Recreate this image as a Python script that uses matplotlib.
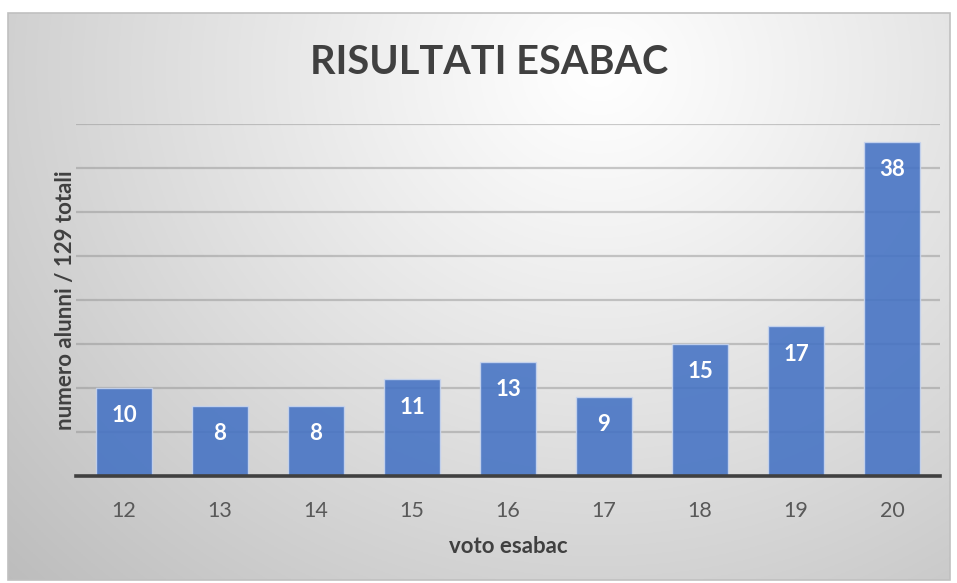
import numpy as np
import matplotlib
matplotlib.use("Agg")
import matplotlib.pyplot as plt
from matplotlib.patches import Rectangle

categories = ["12", "13", "14", "15", "16", "17", "18", "19", "20"]
values = [10, 8, 8, 11, 13, 9, 15, 17, 38]
title = "RISULTATI ESABAC"
xlabel = "voto esabac"
ylabel = "numero alunni / 129 totali"

plt.rcParams['font.family'] = ['Lato', 'DejaVu Sans']

W, H = 957, 583
fig = plt.figure(figsize=(W / 100, H / 100), dpi=100)
fig.patch.set_facecolor("white")

# background frame with radial gradient
x0, y0, x1, y1 = 8, 13, 950, 580
bg = fig.add_axes([x0 / W, 1 - y1 / H, (x1 - x0) / W, (y1 - y0) / H], zorder=0)
nx, ny = 400, 240
xx, yy = np.meshgrid(np.linspace(x0, x1, nx), np.linspace(y0, y1, ny))
cx, cy = 600, 70
r = np.sqrt(((xx - cx) / 1.0) ** 2 + ((yy - cy) / 0.9) ** 2)
r = r / r.max()
light = 1.0 - 0.26 * np.clip(r, 0, 1) ** 1.1
img = np.dstack([light, light, light])
bg.imshow(img, extent=[0, 1, 0, 1], aspect="auto", origin="upper")
bg.set_xlim(0, 1)
bg.set_ylim(0, 1)
bg.axis("off")
fig.patches.append(Rectangle((x0 / W, 1 - y1 / H), (x1 - x0) / W, (y1 - y0) / H,
                             transform=fig.transFigure, fill=False,
                             edgecolor="#c0c0c0", linewidth=1.2, zorder=5))

# main axes
L, R, B, T = 76, 940, 476, 124
ax = fig.add_axes([L / W, 1 - B / H, (R - L) / W, (B - T) / H], zorder=2)
ax.patch.set_alpha(0)

xpos = np.arange(len(categories))
ax.set_xlim(-0.5, len(categories) - 0.5)
ax.set_ylim(0, 40)
ax.set_yticks(np.arange(5, 45, 5))
ax.yaxis.grid(True, color="#8c8c8c", alpha=0.45, linewidth=1.6, zorder=0)
ax.set_axisbelow(True)

bars = ax.bar(xpos, values, width=0.59, color="#4472C4", alpha=0.88,
              edgecolor="#c9d6ef", linewidth=1.0, zorder=3)
for xp, v in zip(xpos, values):
    ax.annotate(str(v), (xp, v), xytext=(0, -28), textcoords="offset pixels",
                ha="center", va="center", color="white", fontsize=16,
                fontweight="bold", zorder=4)

for s in ["top", "right", "left"]:
    ax.spines[s].set_visible(False)
ax.spines["bottom"].set_color("#404040")
ax.spines["bottom"].set_linewidth(2.6)
ax.spines["bottom"].set_zorder(5)

ax.set_xticks(xpos)
ax.set_xticklabels(categories, fontsize=15.5, color="#595959")
ax.tick_params(axis="x", length=0, pad=18)
ax.tick_params(axis="y", length=0, labelleft=False)

ax.set_xlabel(xlabel, fontsize=16, fontweight="bold", color="#404040", labelpad=11)
ax.set_ylabel(ylabel, fontsize=16, fontweight="bold", color="#404040", labelpad=0)

fig.text(489 / W, 1 - 63 / H, title, ha="center", va="center", fontsize=28.5,
         fontweight="bold", color="#404040")

fig.savefig("out.png", dpi=100, facecolor="white")
